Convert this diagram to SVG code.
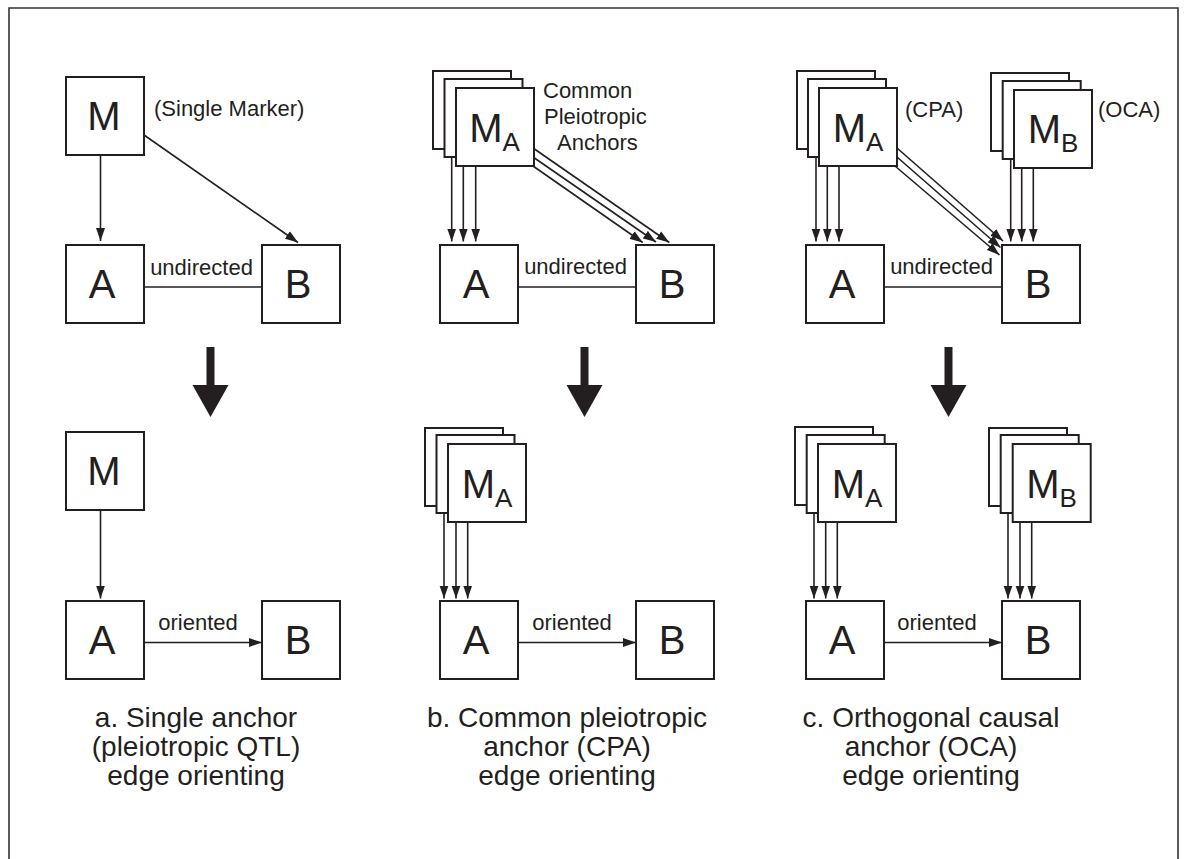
<svg xmlns="http://www.w3.org/2000/svg" width="1187" height="859" viewBox="0 0 1187 859">
  <style>
    .frame { fill: none; stroke: #333; stroke-width: 1.6; }
    .box { fill: #fff; stroke: #231f20; stroke-width: 2; }
    .edge { fill: none; stroke: #231f20; stroke-width: 1.6; }
    .lbl { font-family: "Liberation Sans", Arial, sans-serif; fill: #231f20; }
    .big { font-size: 40px; text-anchor: middle; }
    .sub { font-size: 26px; }
    .note { font-size: 22px; }
    .cap { font-size: 28px; text-anchor: middle; }
    .step { fill: #231f20; }
  </style>
  <defs>
    <marker id="head" markerUnits="userSpaceOnUse" markerWidth="13" markerHeight="10" refX="13" refY="5" orient="auto">
      <path d="M0,0.5 L13,5 L0,9.5 z" fill="#231f20"/>
    </marker>
    <rect id="sq" width="78" height="78" class="box"/>
  </defs>

  <rect width="1187" height="859" fill="#fff"/>
  <path class="frame" d="M9,859 V8 H1178 V859"/>

  <!-- connectors (drawn beneath the white boxes) -->
  <g id="connectors" class="edge" marker-end="url(#head)">
    <!-- panel a, before -->
    <line x1="100.5" y1="155" x2="100.5" y2="241"/>
    <line x1="144" y1="135" x2="298" y2="242.5"/>
    <line x1="144" y1="287" x2="262" y2="287" marker-end="none"/>
    <!-- panel b, before -->
    <line x1="451.7" y1="149" x2="451.7" y2="241.5"/>
    <line x1="463.3" y1="157" x2="463.3" y2="241.5"/>
    <line x1="475.7" y1="166" x2="475.7" y2="241.5"/>
    <line x1="533" y1="148" x2="669.3" y2="242.5"/>
    <line x1="533" y1="157" x2="656" y2="242"/>
    <line x1="533" y1="166" x2="642.7" y2="242.5"/>
    <line x1="518" y1="287" x2="636" y2="287" marker-end="none"/>
    <!-- panel c, before -->
    <line x1="816" y1="149" x2="816" y2="241.5"/>
    <line x1="827.3" y1="157" x2="827.3" y2="241.5"/>
    <line x1="839" y1="166" x2="839" y2="241.5"/>
    <line x1="1010.7" y1="151" x2="1010.7" y2="241.5"/>
    <line x1="1021.7" y1="159" x2="1021.7" y2="241.5"/>
    <line x1="1033.3" y1="168" x2="1033.3" y2="241.5"/>
    <line x1="897" y1="148" x2="1003" y2="241"/>
    <line x1="897" y1="157" x2="1000.5" y2="247.5"/>
    <line x1="895" y1="166" x2="999.5" y2="255"/>
    <line x1="884" y1="287" x2="1002" y2="287" marker-end="none"/>
    <!-- panel a, after -->
    <line x1="100.5" y1="510" x2="100.5" y2="598.5"/>
    <line x1="144" y1="642.5" x2="262" y2="642.5"/>
    <!-- panel b, after -->
    <line x1="444" y1="506" x2="444" y2="598.5"/>
    <line x1="456" y1="513" x2="456" y2="598.5"/>
    <line x1="467.7" y1="522" x2="467.7" y2="598.5"/>
    <line x1="518" y1="642.5" x2="636" y2="642.5"/>
    <!-- panel c, after -->
    <line x1="814" y1="505" x2="814" y2="598.5"/>
    <line x1="825.7" y1="513" x2="825.7" y2="598.5"/>
    <line x1="837.3" y1="522" x2="837.3" y2="598.5"/>
    <line x1="1008" y1="506" x2="1008" y2="598.5"/>
    <line x1="1020" y1="513" x2="1020" y2="598.5"/>
    <line x1="1031.7" y1="522" x2="1031.7" y2="598.5"/>
    <line x1="884" y1="642.5" x2="1002" y2="642.5"/>
  </g>

  <!-- edge labels and notes -->
  <g id="labels" class="lbl note">
    <text x="154" y="116">(Single Marker)</text>
    <text x="201.5" y="275" text-anchor="middle">undirected</text>
    <text x="575.5" y="274" text-anchor="middle">undirected</text>
    <text x="941.5" y="274" text-anchor="middle">undirected</text>
    <text x="543" y="98">Common</text>
    <text x="544" y="124">Pleiotropic</text>
    <text x="557" y="150">Anchors</text>
    <text x="905" y="117">(CPA)</text>
    <text x="1098" y="117">(OCA)</text>
    <text x="198" y="630" text-anchor="middle">oriented</text>
    <text x="572" y="630" text-anchor="middle">oriented</text>
    <text x="937" y="630" text-anchor="middle">oriented</text>
  </g>

  <!-- panel a, before -->
  <g id="a-M">
    <use href="#sq" x="66" y="77"/>
    <text class="lbl big" x="104" y="130">M</text>
  </g>
  <g id="a-A">
    <use href="#sq" x="66" y="245"/>
    <text class="lbl big" x="102" y="298">A</text>
  </g>
  <g id="a-B">
    <use href="#sq" x="262" y="245"/>
    <text class="lbl big" x="298" y="298">B</text>
  </g>

  <!-- panel b, before -->
  <g id="b-MA">
    <use href="#sq" x="433" y="71"/>
    <use href="#sq" x="444.5" y="79"/>
    <use href="#sq" x="456" y="88"/>
    <text class="lbl big" x="494.5" y="142">M<tspan class="sub" dy="9">A</tspan></text>
  </g>
  <g id="b-A">
    <use href="#sq" x="440" y="245"/>
    <text class="lbl big" x="476" y="298">A</text>
  </g>
  <g id="b-B">
    <use href="#sq" x="636" y="245"/>
    <text class="lbl big" x="672" y="298">B</text>
  </g>

  <!-- panel c, before -->
  <g id="c-MA">
    <use href="#sq" x="797" y="71"/>
    <use href="#sq" x="808" y="79"/>
    <use href="#sq" x="819" y="88"/>
    <text class="lbl big" x="858" y="142">M<tspan class="sub" dy="9">A</tspan></text>
  </g>
  <g id="c-MB">
    <use href="#sq" x="991" y="73"/>
    <use href="#sq" x="1002.7" y="81"/>
    <use href="#sq" x="1014" y="90"/>
    <text class="lbl big" x="1053" y="143">M<tspan class="sub" dy="9">B</tspan></text>
  </g>
  <g id="c-A">
    <use href="#sq" x="806" y="245"/>
    <text class="lbl big" x="842" y="298">A</text>
  </g>
  <g id="c-B">
    <use href="#sq" x="1002" y="245"/>
    <text class="lbl big" x="1038" y="298">B</text>
  </g>

  <!-- transition arrows -->
  <g id="steps" class="step">
    <path d="M206.5,347 h8 v38 h14 l-18,32 l-18,-32 h14 z"/>
    <path d="M580.5,347 h8 v38 h14 l-18,32 l-18,-32 h14 z"/>
    <path d="M944.5,347 h8 v38 h14 l-18,32 l-18,-32 h14 z"/>
  </g>

  <!-- panel a, after -->
  <g id="a2-M">
    <use href="#sq" x="66" y="432"/>
    <text class="lbl big" x="104" y="485">M</text>
  </g>
  <g id="a2-A">
    <use href="#sq" x="66" y="601"/>
    <text class="lbl big" x="102" y="654">A</text>
  </g>
  <g id="a2-B">
    <use href="#sq" x="262" y="601"/>
    <text class="lbl big" x="298" y="654">B</text>
  </g>

  <!-- panel b, after -->
  <g id="b2-MA">
    <use href="#sq" x="425" y="428"/>
    <use href="#sq" x="436.5" y="435"/>
    <use href="#sq" x="448" y="444"/>
    <text class="lbl big" x="487" y="498">M<tspan class="sub" dy="9">A</tspan></text>
  </g>
  <g id="b2-A">
    <use href="#sq" x="440" y="601"/>
    <text class="lbl big" x="476" y="654">A</text>
  </g>
  <g id="b2-B">
    <use href="#sq" x="636" y="601"/>
    <text class="lbl big" x="672" y="654">B</text>
  </g>

  <!-- panel c, after -->
  <g id="c2-MA">
    <use href="#sq" x="795" y="427"/>
    <use href="#sq" x="806.7" y="435"/>
    <use href="#sq" x="818" y="444"/>
    <text class="lbl big" x="857" y="498">M<tspan class="sub" dy="9">A</tspan></text>
  </g>
  <g id="c2-MB">
    <use href="#sq" x="989" y="428"/>
    <use href="#sq" x="1000.7" y="435"/>
    <use href="#sq" x="1012.7" y="444"/>
    <text class="lbl big" x="1051.5" y="498">M<tspan class="sub" dy="9">B</tspan></text>
  </g>
  <g id="c2-A">
    <use href="#sq" x="806" y="601"/>
    <text class="lbl big" x="842" y="654">A</text>
  </g>
  <g id="c2-B">
    <use href="#sq" x="1002" y="601"/>
    <text class="lbl big" x="1038" y="654">B</text>
  </g>

  <!-- panel captions -->
  <g id="captions" class="lbl cap">
    <text x="196" y="727">a. Single anchor</text>
    <text x="196" y="756">(pleiotropic QTL)</text>
    <text x="196" y="785">edge orienting</text>
    <text x="567" y="727">b. Common pleiotropic</text>
    <text x="567" y="756">anchor (CPA)</text>
    <text x="567" y="785">edge orienting</text>
    <text x="931" y="727">c. Orthogonal causal</text>
    <text x="931" y="756">anchor (OCA)</text>
    <text x="931" y="785">edge orienting</text>
  </g>
</svg>
